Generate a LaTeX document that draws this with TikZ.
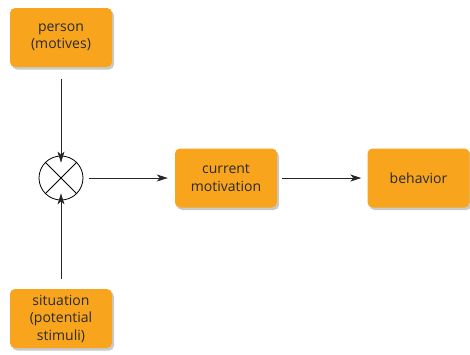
\documentclass[tikz,border=0pt]{standalone}
\usepackage{fontspec}
\setmainfont{Open Sans}
\usetikzlibrary{arrows.meta,shadows}
\definecolor{boxorange}{HTML}{F8A51D}
\definecolor{txt}{HTML}{2A2A2A}
\begin{document}
\begin{tikzpicture}[x=1pt,y=-1pt,
  box/.style={fill=boxorange, rounded corners=5pt, minimum width=102pt, minimum height=59pt,
    inner sep=0pt, align=center, text=txt, font=\fontsize{14}{17.5}\selectfont,
    drop shadow={shadow xshift=2pt, shadow yshift=-2.5pt, opacity=0.35, fill=black!60}},
  arr/.style={draw=black!85, line width=0.8pt, -{Stealth[length=11pt,width=7pt,inset=3pt]}},
  ]
\useasboundingbox (0,0) rectangle (470,354);
\node[box] (person) at (61,37.5) {person\\(motives)};
\node[box] (situation) at (61,318.5) {situation\\(potential\\stimuli)};
\node[box] (current) at (226,178) {current\\motivation};
\node[box] (behavior) at (418.5,178) {behavior};
\node[draw=black, line width=0.8pt, circle, minimum size=44pt, inner sep=0pt] (mult) at (61,178) {};
\draw[line width=0.8pt] (mult.north west) -- (mult.south east) (mult.north east) -- (mult.south west);
\draw[arr] ([yshift=-12pt]person.south) -- ([yshift=-7pt]mult.north);
\draw[arr] ([yshift=10pt]situation.north) -- ([yshift=7pt]mult.south);
\draw[arr] ([xshift=6pt]mult.east) -- ([xshift=-7pt]current.west);
\draw[arr] ([xshift=5pt]current.east) -- ([xshift=-6pt]behavior.west);
\end{tikzpicture}
\end{document}
